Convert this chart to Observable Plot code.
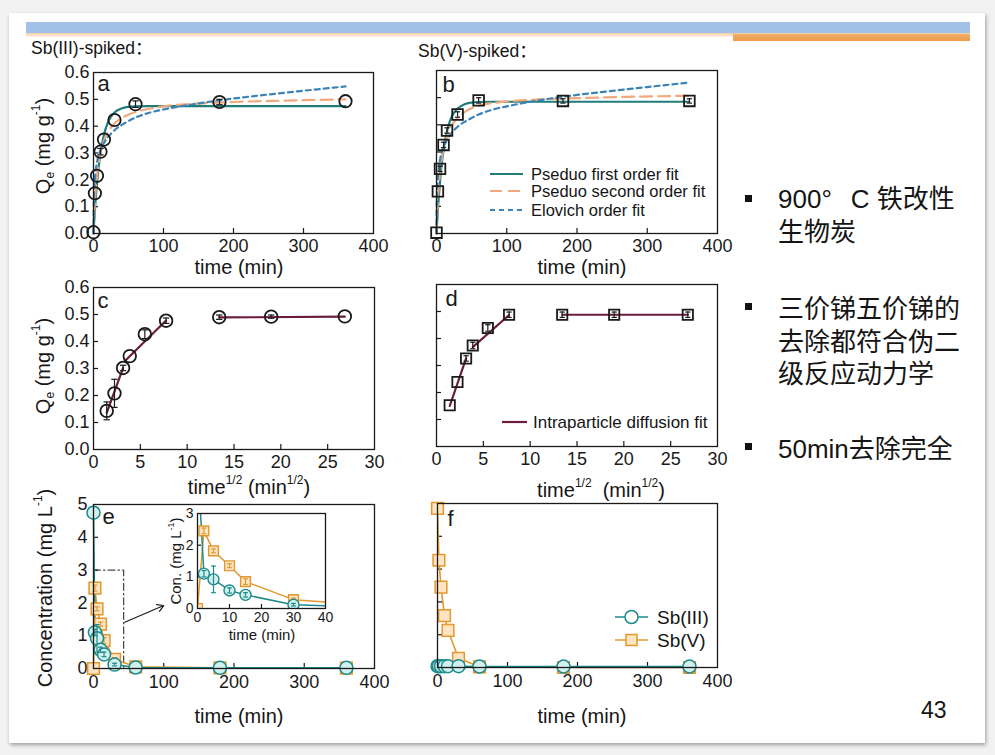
<!DOCTYPE html>
<html lang="zh">
<head>
<meta charset="utf-8">
<script src="https://cdn.jsdelivr.net/npm/d3@7"></script>
<script src="https://cdn.jsdelivr.net/npm/@observablehq/plot@0.6"></script>
<style>
html,body{margin:0;padding:0;}
body{width:995px;height:755px;position:relative;overflow:hidden;background:#f2f2f2;
  font-family:"Liberation Sans",Arial,"Noto Sans CJK SC",sans-serif;color:#151515;}
.abs{position:absolute;white-space:nowrap;line-height:1;}
.sup{font-size:0.6em;position:relative;top:-0.8em;}
.sub{font-size:0.6em;position:relative;top:0.35em;}
</style>
</head>
<body>
<div class="abs" style="left:9px;top:13px;width:976px;height:730px;background:#fff;box-shadow:1px 2px 4px rgba(0,0,0,.35);"></div>
<div class="abs" style="left:26px;top:22px;width:944px;height:11px;background:#a2c1e7"></div>
<div class="abs" style="left:26px;top:33px;width:944px;height:4px;background:linear-gradient(#f3cda6,#fcf1e4)"></div>
<div class="abs" style="left:733px;top:34px;width:237px;height:7px;background:linear-gradient(#f1b06b,#ee9b48)"></div>
<script>
// ================= DATA =================
// axis ticks
const timeTicks = [0, 100, 200, 300, 400];
const sqrtTimeTicks = [0, 5, 10, 15, 20, 25, 30];
const qeTicks = [0, 0.1, 0.2, 0.3, 0.4, 0.5, 0.6];
const concTicks = [0, 1, 2, 3, 4, 5];
const insetTimeTicks = [0, 10, 20, 30, 40];
const insetConcTicks = [0, 1, 2, 3];

// sampling times (min)
const sampleTime = [0, 2, 5, 10, 15, 30, 60, 180, 360];
const sqrtTime = [1.41, 2.24, 3.16, 3.87, 5.48, 7.75, 13.42, 18.97, 26.83];

// Panel a: Sb(III)-spiked, Qe (mg/g)
const qeA = [0.005, 0.15, 0.215, 0.305, 0.35, 0.423, 0.482, 0.49, 0.493];
const errA = [0, 0, 0, 0.012, 0, 0, 0.012, 0.01, 0];
const pfoTimeA = [0, 1, 2, 3, 5, 7, 10, 15, 20, 25, 30, 40, 50, 60, 80, 360];
const pfoQeA = [0, 0.045, 0.086, 0.123, 0.187, 0.24, 0.30, 0.368, 0.41, 0.435, 0.451, 0.466, 0.472, 0.474, 0.475, 0.475];
const psoTimeA = [0, 1, 2, 3, 5, 7, 10, 15, 20, 30, 45, 60, 80, 100, 150, 200, 270, 360];
const psoQeA = [0, 0.065, 0.115, 0.155, 0.213, 0.255, 0.30, 0.347, 0.375, 0.41, 0.437, 0.453, 0.465, 0.474, 0.484, 0.49, 0.495, 0.5];
const eloTimeA = [0.1, 0.3, 0.6, 1, 2, 3, 5, 7, 10, 15, 20, 30, 45, 60, 80, 100, 150, 200, 250, 300, 360];
const eloQeA = [0, 0.08, 0.125, 0.16, 0.205, 0.232, 0.265, 0.29, 0.31, 0.338, 0.357, 0.385, 0.412, 0.432, 0.45, 0.462, 0.485, 0.503, 0.518, 0.532, 0.548];

// Panel b: Sb(V)-spiked, Qe (mg/g)
const qeB = [0.003, 0.155, 0.238, 0.326, 0.379, 0.438, 0.49, 0.488, 0.488];
const errB = [0, 0, 0.01, 0.01, 0.01, 0.01, 0.01, 0.008, 0.008];
const pfoTimeB = [0, 1, 2, 3, 5, 7, 10, 15, 20, 25, 30, 40, 50, 60, 80, 360];
const pfoQeB = [0, 0.046, 0.088, 0.126, 0.191, 0.245, 0.306, 0.377, 0.42, 0.445, 0.46, 0.476, 0.482, 0.484, 0.485, 0.485];
const psoTimeB = [0, 1, 2, 3, 5, 7, 10, 15, 20, 30, 45, 60, 80, 100, 150, 200, 270, 360];
const psoQeB = [0, 0.07, 0.122, 0.163, 0.222, 0.265, 0.31, 0.357, 0.39, 0.425, 0.455, 0.47, 0.48, 0.486, 0.494, 0.498, 0.503, 0.507];
const eloTimeB = [0.1, 0.3, 0.6, 1, 2, 3, 5, 7, 10, 15, 20, 30, 45, 60, 80, 100, 150, 200, 250, 300, 360];
const eloQeB = [0, 0.085, 0.13, 0.165, 0.21, 0.237, 0.27, 0.295, 0.318, 0.345, 0.365, 0.393, 0.418, 0.438, 0.456, 0.468, 0.492, 0.51, 0.525, 0.539, 0.556];

// Panel c: Sb(III) intraparticle diffusion
const qeC = [0.143, 0.208, 0.302, 0.346, 0.427, 0.477, 0.49, 0.492, 0.493];
const errC = [0.033, 0.052, 0.01, 0, 0.016, 0.01, 0.008, 0.006, 0];
const ipdSegC = [1, 1, 2, 2, 3, 3];
const ipdXC = [1.41, 3.16, 3.3, 7.75, 13.42, 26.83];
const ipdQC = [0.136, 0.302, 0.326, 0.478, 0.489, 0.492];

// Panel d: Sb(V) intraparticle diffusion
const qeD = [0.153, 0.239, 0.326, 0.374, 0.439, 0.488, 0.488, 0.488, 0.488];
const errD = [0, 0, 0.01, 0.012, 0.012, 0.01, 0.01, 0.01, 0.01];
const ipdSegD = [1, 1, 2, 2, 3, 3];
const ipdXD = [1.41, 3.16, 3.87, 7.75, 13.42, 26.83];
const ipdQD = [0.15, 0.326, 0.368, 0.487, 0.488, 0.488];

// Panel e: Sb(III)-spiked, concentration (mg/L)
const sb3E = [4.75, 1.1, 0.92, 0.57, 0.43, 0.12, 0.03, 0.02, 0.02];
const sb3ErrE = [0, 0.1, 0.42, 0.08, 0.07, 0.04, 0, 0, 0];
const sb5E = [0.0, 2.45, 1.82, 1.35, 0.85, 0.28, 0.05, 0.02, 0.01];
const sb5ErrE = [0, 0.09, 0.06, 0.06, 0.09, 0.05, 0, 0, 0];
const zoomBoxTime = [0, 43, 43];
const zoomBoxConc = [3, 3, 0];
const arrowTime = [44.5, 100];
const arrowConc = [1.41, 1.92];

// Panel f: Sb(V)-spiked, concentration (mg/L)
const sb3F = [0.04, 0.04, 0.04, 0.04, 0.04, 0.04, 0.03, 0.03, 0.03];
const sb5F = [4.85, 3.27, 2.45, 1.58, 1.13, 0.28, 0.02, 0.0, 0.0];

// ================= STYLE =================
const INK = "#1a1a1a";
const TEAL = "#1d8a8c", TEAL_FILL = "#d3efee";
const ORANGE = "#e3982e", ORANGE_FILL = "#fde5c4";
const PFO_COLOR = "#1f7d7a", PSO_COLOR = "#f0a97c", ELO_COLOR = "#3c84b8", IPD_COLOR = "#6b1c3f";
const FONT = '"Liberation Sans", Arial, sans-serif';

// ================= TABLES =================
const zip = (xs, ys, kx, ky) => xs.map((v, i) => ({[kx]: v, [ky]: ys[i]}));
const obsA = sampleTime.map((t, i) => ({t, q: qeA[i], e: errA[i]}));
const obsB = sampleTime.map((t, i) => ({t, q: qeB[i], e: errB[i]}));
const obsC = sqrtTime.map((s, i) => ({s, q: qeC[i], e: errC[i]}));
const obsD = sqrtTime.map((s, i) => ({s, q: qeD[i], e: errD[i]}));
const fitC = ipdXC.map((s, i) => ({s, q: ipdQC[i], seg: ipdSegC[i]}));
const fitD = ipdXD.map((s, i) => ({s, q: ipdQD[i], seg: ipdSegD[i]}));
const pfoA = zip(pfoTimeA, pfoQeA, "t", "q"), psoA = zip(psoTimeA, psoQeA, "t", "q"), eloA = zip(eloTimeA, eloQeA, "t", "q");
const pfoB = zip(pfoTimeB, pfoQeB, "t", "q"), psoB = zip(psoTimeB, psoQeB, "t", "q"), eloB = zip(eloTimeB, eloQeB, "t", "q");
const concE = sampleTime.map((t, i) => ({t, sb3: sb3E[i], e3: sb3ErrE[i], sb5: sb5E[i], e5: sb5ErrE[i]}));
const concF = sampleTime.map((t, i) => ({t, sb3: sb3F[i], sb5: sb5F[i]}));
const insetE = concE.filter(d => d.t <= 40);
const zoomBox = zip(zoomBoxTime, zoomBoxConc, "t", "c");

// ================= HELPERS =================
const capSymbol = {draw(ctx, size) { const w = Math.sqrt(size / Math.PI); ctx.moveTo(-w, 0); ctx.lineTo(w, 0); }};
function errorBars(data, x, y, e, stroke, capR = 3.2, clip = false) {
  const f = data.filter(d => d[e] > 0);
  return [
    Plot.ruleX(f, {x, y1: d => d[y] - d[e], y2: d => d[y] + d[e], stroke, strokeWidth: 1.2, clip}),
    Plot.dot(f, {x, y: d => d[y] - d[e], symbol: capSymbol, r: capR, stroke, fill: "none", strokeWidth: 1.2, clip}),
    Plot.dot(f, {x, y: d => d[y] + d[e], symbol: capSymbol, r: capR, stroke, fill: "none", strokeWidth: 1.2, clip})
  ];
}
function axes(frame, xTicks, yTicks, yLabels, yFormat, fontSize = 18, tickLen = 5, xPad = 6, yPad = 4) {
  const iw = frame[1] - frame[0], ih = frame[3] - frame[2];
  return [
    Plot.tickX(xTicks.slice(1, -1), {x: d => d, insetTop: ih - tickLen, stroke: INK, strokeWidth: 1.2}),
    Plot.tickY(yTicks.slice(1, -1), {y: d => d, insetRight: iw - tickLen, stroke: INK, strokeWidth: 1.2}),
    Plot.axisX({ticks: xTicks, tickSize: 0, tickPadding: xPad, label: null, fontSize, tickFormat: d => String(d), fill: INK}),
    yLabels ? Plot.axisY({ticks: yTicks, tickSize: 0, tickPadding: yPad, label: null, fontSize, tickFormat: yFormat, fill: INK}) : null
  ];
}
function letter(ch, dx, dy) {
  return Plot.text([ch], {frameAnchor: "top-left", textAnchor: "start", lineAnchor: "top", dx, dy, fontSize: 22, fill: INK});
}
function addPlot(frame, xDomain, yDomain, marks) {
  const ml = 50, mr = 26, mt = 12, mb = 40;
  const [x1, x2, y1, y2] = frame;
  const svg = Plot.plot({
    width: x2 - x1 + ml + mr, height: y2 - y1 + mt + mb,
    marginLeft: ml, marginRight: mr, marginTop: mt, marginBottom: mb,
    x: {domain: xDomain, axis: null}, y: {domain: yDomain, axis: null},
    style: {background: "transparent", overflow: "visible", fontFamily: FONT, color: INK},
    marks: [...marks, Plot.frame({stroke: INK, strokeWidth: 1.3})]
  });
  svg.style.position = "absolute";
  svg.style.left = (x1 - ml) + "px";
  svg.style.top = (y1 - mt) + "px";
  document.body.appendChild(svg);
}
function addDiv(html, css) {
  const d = document.createElement("div");
  d.className = "abs";
  d.style.cssText += css;
  d.innerHTML = html;
  document.body.appendChild(d);
  return d;
}
const hText = (html, cx, base, size) => addDiv(html, `left:${cx}px;top:${base - 0.8465 * size}px;font-size:${size}px;transform:translateX(-50%);`);
const lText = (html, left, base, size, extra = "") => addDiv(html, `left:${left}px;top:${base - 0.8465 * size}px;font-size:${size}px;${extra}`);
const vText = (html, cx, cy, size) => addDiv(html, `left:${cx}px;top:${cy}px;font-size:${size}px;transform:translate(-50%,-50%) rotate(-90deg);`);
function swatch(x1, x2, y, o) {
  const w = x2 - x1;
  const svg = d3.create("svg").attr("width", w + 20).attr("height", 24)
    .style("position", "absolute").style("left", (x1 - 10) + "px").style("top", (y - 12) + "px").style("overflow", "visible");
  svg.append("line").attr("x1", 10).attr("x2", w + 10).attr("y1", 12).attr("y2", 12)
    .attr("stroke", o.stroke).attr("stroke-width", o.width || 2.2).attr("stroke-dasharray", o.dash || null);
  if (o.marker === "circle") svg.append("circle").attr("cx", 10 + w / 2).attr("cy", 12).attr("r", 6.5)
    .attr("fill", o.fill).attr("stroke", o.stroke).attr("stroke-width", 1.5);
  if (o.marker === "square") svg.append("rect").attr("x", 10 + w / 2 - 5.5).attr("y", 6.5).attr("width", 11).attr("height", 11)
    .attr("fill", o.fill).attr("stroke", o.stroke).attr("stroke-width", 1.5);
  document.body.appendChild(svg.node());
}

// ================= PANELS =================
const f1 = d => d.toFixed(1);
const frameA = [93, 373, 72, 233];
addPlot(frameA, [0, 400], [0, 0.6], [
  ...axes(frameA, timeTicks, qeTicks, true, f1),
  Plot.line(pfoA, {x: "t", y: "q", stroke: PFO_COLOR, strokeWidth: 2.2, curve: "monotone-x"}),
  Plot.line(psoA, {x: "t", y: "q", stroke: PSO_COLOR, strokeWidth: 2.2, strokeDasharray: "12,6", curve: "monotone-x"}),
  Plot.line(eloA, {x: "t", y: "q", stroke: ELO_COLOR, strokeWidth: 2.2, strokeDasharray: "5,4", curve: "monotone-x"}),
  ...errorBars(obsA, "t", "q", "e", INK),
  Plot.dot(obsA, {x: "t", y: "q", r: 6.2, stroke: INK, strokeWidth: 1.8, fill: "none"}),
  letter("a", 4, 3)
]);

const frameB = [436, 717, 70, 233];
addPlot(frameB, [0, 400], [0, 0.6], [
  ...axes(frameB, timeTicks, qeTicks, false, f1),
  Plot.line(pfoB, {x: "t", y: "q", stroke: PFO_COLOR, strokeWidth: 2.2, curve: "monotone-x"}),
  Plot.line(psoB, {x: "t", y: "q", stroke: PSO_COLOR, strokeWidth: 2.2, strokeDasharray: "12,6", curve: "monotone-x"}),
  Plot.line(eloB, {x: "t", y: "q", stroke: ELO_COLOR, strokeWidth: 2.2, strokeDasharray: "5,4", curve: "monotone-x"}),
  ...errorBars(obsB, "t", "q", "e", INK, 2.6),
  Plot.dot(obsB, {x: "t", y: "q", r: 6, symbol: "square", stroke: INK, strokeWidth: 1.8, fill: "none"}),
  letter("b", 6, 6)
]);

const frameC = [93, 374, 287, 449];
addPlot(frameC, [0, 30], [0, 0.6], [
  ...axes(frameC, sqrtTimeTicks, qeTicks, true, f1),
  Plot.line(fitC, {x: "s", y: "q", z: "seg", stroke: IPD_COLOR, strokeWidth: 2.2}),
  ...errorBars(obsC, "s", "q", "e", INK),
  Plot.dot(obsC, {x: "s", y: "q", r: 6.3, stroke: INK, strokeWidth: 1.8, fill: "none"}),
  letter("c", 4, 5)
]);

const frameD = [436, 717, 284, 446];
addPlot(frameD, [0, 30], [0, 0.6], [
  ...axes(frameD, sqrtTimeTicks, qeTicks, false, f1),
  Plot.line(fitD, {x: "s", y: "q", z: "seg", stroke: IPD_COLOR, strokeWidth: 2.2}),
  ...errorBars(obsD, "s", "q", "e", INK, 2.6),
  Plot.dot(obsD, {x: "s", y: "q", r: 5.8, symbol: "square", stroke: INK, strokeWidth: 1.8, fill: "none"}),
  letter("d", 9, 6)
]);

const frameE = [93, 374, 504, 668];
addPlot(frameE, [0, 400], [0, 5], [
  ...axes(frameE, timeTicks, concTicks, true, d => String(d), 18, 5, 7, 6),
  Plot.line(zoomBox, {x: "t", y: "c", stroke: INK, strokeWidth: 1, strokeDasharray: "7,3,1.5,3"}),
  Plot.arrow({length: 1}, {x1: () => arrowTime[0], y1: () => arrowConc[0], x2: () => arrowTime[1], y2: () => arrowConc[1], stroke: INK, strokeWidth: 1.2, headLength: 9}),
  Plot.line(concE, {x: "t", y: "sb5", stroke: ORANGE, strokeWidth: 1.6}),
  Plot.line(concE, {x: "t", y: "sb3", stroke: TEAL, strokeWidth: 1.6}),
  Plot.dot(concE, {x: "t", y: "sb5", r: 6.6, symbol: "square", stroke: ORANGE, fill: ORANGE_FILL, strokeWidth: 1.5}),
  ...errorBars(concE, "t", "sb5", "e5", ORANGE, 2.5),
  Plot.dot(concE, {x: "t", y: "sb3", r: 6.5, stroke: TEAL, fill: TEAL_FILL, strokeWidth: 1.5}),
  ...errorBars(concE, "t", "sb3", "e3", TEAL, 2.5),
  letter("e", 9, 4)
]);

const frameIn = [197, 325, 513, 608];
addPlot(frameIn, [0, 40], [0, 3], [
  Plot.frame({fill: "white", stroke: "none"}),
  ...axes(frameIn, insetTimeTicks, insetConcTicks, true, d => String(d), 14, 4, 4, 4),
  Plot.line(concE, {x: "t", y: "sb5", stroke: ORANGE, strokeWidth: 1.5, clip: true}),
  Plot.line(concE, {x: "t", y: "sb3", stroke: TEAL, strokeWidth: 1.5, clip: true}),
  Plot.dot(insetE, {x: "t", y: "sb5", r: 5.5, symbol: "square", stroke: ORANGE, fill: ORANGE_FILL, strokeWidth: 1.4, clip: true}),
  ...errorBars(insetE, "t", "sb5", "e5", ORANGE, 2.4, true),
  Plot.dot(insetE, {x: "t", y: "sb3", r: 5.5, stroke: TEAL, fill: TEAL_FILL, strokeWidth: 1.4, clip: true}),
  ...errorBars(insetE, "t", "sb3", "e3", TEAL, 2.4, true)
]);

const frameF = [437, 717, 503, 667];
addPlot(frameF, [0, 400], [0, 5], [
  ...axes(frameF, timeTicks, concTicks, false, d => String(d), 18, 5, 7),
  Plot.line(concF, {x: "t", y: "sb5", stroke: ORANGE, strokeWidth: 1.6}),
  Plot.line(concF, {x: "t", y: "sb3", stroke: TEAL, strokeWidth: 1.6}),
  Plot.dot(concF, {x: "t", y: "sb5", r: 6.6, symbol: "square", stroke: ORANGE, fill: ORANGE_FILL, strokeWidth: 1.5}),
  Plot.dot(concF, {x: "t", y: "sb3", r: 6.5, stroke: TEAL, fill: TEAL_FILL, strokeWidth: 1.5}),
  letter("f", 10, 7)
]);

// ================= TEXT =================
lText("Sb(III)-spiked：", 31, 55, 17.5);
lText("Sb(V)-spiked：", 418, 58, 17.5);

const qeLabel = "Q<span class='sub'>e</span> (mg g<span class='sup'>-1</span>)";
vText(qeLabel, 43, 146, 20);
vText(qeLabel, 43, 366, 20);
vText("Concentration (mg L<span class='sup'>-1</span>)", 45, 588, 20);
vText("Con. (mg L<span class='sup'>-1</span>)", 175, 561, 15);

hText("time (min)", 239, 274, 20);
hText("time (min)", 582, 274, 20);
hText("time<span class='sup'>1/2</span> (min<span class='sup'>1/2</span>)", 249, 494, 20);
hText("time<span class='sup'>1/2</span>&nbsp;&nbsp;(min<span class='sup'>1/2</span>)", 601, 497, 20);
hText("time (min)", 239, 723, 20);
hText("time (min)", 582, 723, 20);
hText("time (min)", 262, 640, 15);

// legends
swatch(490, 523, 174, {stroke: PFO_COLOR});
swatch(490, 523, 191, {stroke: PSO_COLOR, dash: "12,6"});
swatch(490, 523, 210, {stroke: ELO_COLOR, dash: "5,4"});
lText("Pseduo first order fit", 531, 180, 16.5);
lText("Pseduo second order fit", 531, 197, 16.5);
lText("Elovich order fit", 531, 216, 16.5);

swatch(502, 527, 422, {stroke: IPD_COLOR});
lText("Intraparticle diffusion fit", 533, 428, 17);

swatch(615, 648, 617, {stroke: TEAL, width: 1.6, marker: "circle", fill: "#ffffff"});
swatch(615, 648, 640, {stroke: ORANGE, width: 1.6, marker: "square", fill: ORANGE_FILL});
lText("Sb(III)", 657, 624, 19);
lText("Sb(V)", 657, 647, 19);

// bullets
const bulletTop = [195, 303, 443];
bulletTop.forEach(y => addDiv("", `left:745px;top:${y}px;width:6.5px;height:6.5px;background:#111;`));
const bulletLines = [
  ["900°<span style='margin-left:19px'>C</span> 铁改性", 208],
  ["生物炭", 241],
  ["三价锑五价锑的", 318],
  ["去除都符合伪二", 351],
  ["级反应动力学", 383],
  ["50min去除完全", 458]
];
bulletLines.forEach(([t, b]) => lText(t, 778, b, 26));
lText("43", 921, 718, 23);
</script>
</body>
</html>
